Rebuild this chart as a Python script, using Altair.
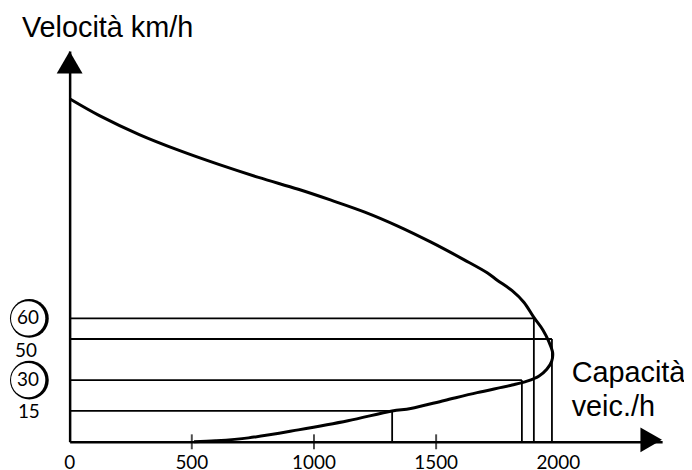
import altair as alt
import pandas as pd

# speed-flow curve (veic./h, km/h)
curve_flow = [0, 122, 285, 448, 610, 773, 936, 1070, 1208, 1343, 1477, 1615, 1709,
              1750, 1811, 1859, 1900, 1937, 1961, 1977, 1973, 1953, 1920, 1872, 1811,
              1668, 1534, 1396, 1320, 1139, 936, 732, 598, 509]
curve_speed = [166.8, 158.6, 149.4, 141.7, 134.9, 128.6, 122.8, 117.5, 111.7, 104.9,
               97.2, 88.5, 82.2, 78.6, 73.5, 67.9, 60.5, 54.4, 48.8, 43.3, 39.2, 35.3,
               31.9, 29.5, 27.6, 23.9, 20.1, 16.2, 15.0, 10.2, 5.8, 1.9, 0.5, 0.0]

levels = [60, 50, 30, 15]
level_flow = [1900, 1974, 1851, 1320]

circled = ["60", "30"]
circled_speed = [60, 30]

x_ticks = [500, 1000, 1500]
x_labels = [0, 500, 1000, 1500, 2000]

y_title = "Velocità km/h"
x_title = ["Capacità", "veic./h"]

xs = alt.Scale(domain=[0, 2425], nice=False, zero=False)
ys = alt.Scale(domain=[0, 190], nice=False, zero=False)
ax = alt.Axis(title=None, labels=False, ticks=False, grid=False,
              domainColor="black", domainWidth=2.5)

curve_df = pd.DataFrame({"flow": curve_flow, "speed": curve_speed,
                         "order": list(range(len(curve_flow)))})
lev_df = pd.DataFrame({"speed": levels, "flow": level_flow, "zero": [0] * len(levels)})
circ_df = pd.DataFrame({"lab": circled, "speed": circled_speed})
tick_df = pd.DataFrame({"flow": x_ticks, "zero": [0] * len(x_ticks)})
xlab_df = pd.DataFrame({"flow": x_labels, "zero": [0] * len(x_labels),
                        "lab": [str(v) for v in x_labels]})
one = pd.DataFrame({"a": [0]})

curve = alt.Chart(curve_df).mark_line(color="black", strokeWidth=3,
                                      interpolate="catmull-rom").encode(
    x=alt.X("flow:Q", scale=xs, axis=ax),
    y=alt.Y("speed:Q", scale=ys, axis=ax),
    order="order:Q")

hrules = alt.Chart(lev_df).mark_rule(color="black", strokeWidth=1.8).encode(
    x=alt.X("zero:Q", scale=xs, axis=ax), x2="flow:Q",
    y=alt.Y("speed:Q", scale=ys, axis=ax))

vrules = alt.Chart(lev_df).mark_rule(color="black", strokeWidth=1.8).encode(
    x=alt.X("flow:Q", scale=xs, axis=ax),
    y=alt.Y("zero:Q", scale=ys, axis=ax), y2="speed:Q")

ticks = alt.Chart(tick_df).mark_tick(color="black", orient="vertical", size=15,
                                     thickness=2).encode(
    x=alt.X("flow:Q", scale=xs, axis=ax),
    y=alt.Y("zero:Q", scale=ys, axis=ax))

up_arrow = alt.Chart(one).mark_point(shape="triangle-up", filled=True, color="black",
                                     size=676, opacity=1).encode(
    x=alt.value(0), y=alt.value(11.3))
right_arrow = alt.Chart(one).mark_point(shape="triangle-right", filled=True,
                                        color="black", size=625, opacity=1).encode(
    x=alt.value(585), y=alt.value(391))

disc_black = alt.Chart(circ_df).mark_point(shape="circle", filled=True, color="black",
                                           size=1521, opacity=1).encode(
    x=alt.value(-40.5), y=alt.Y("speed:Q", scale=ys, axis=ax))
disc_white = alt.Chart(circ_df).mark_point(shape="circle", filled=True, color="white",
                                           size=1190, opacity=1).encode(
    x=alt.value(-41.7), y=alt.Y("speed:Q", scale=ys, axis=ax))
circ_text = alt.Chart(circ_df).mark_text(font="Lato", fontSize=19, align="center",
                                         baseline="middle", color="black").encode(
    x=alt.value(-42), y=alt.Y("speed:Q", scale=ys, axis=ax), text="lab:N")

lab50 = alt.Chart(pd.DataFrame({"lab": ["50"], "speed": [50]})).mark_text(
    font="Lato", fontSize=19, align="center", baseline="middle", dy=12,
    color="black").encode(x=alt.value(-44), y=alt.Y("speed:Q", scale=ys, axis=ax),
                          text="lab:N")
lab15 = alt.Chart(pd.DataFrame({"lab": ["15"], "speed": [15]})).mark_text(
    font="Lato", fontSize=19, align="center", baseline="middle", dy=1,
    color="black").encode(x=alt.value(-41), y=alt.Y("speed:Q", scale=ys, axis=ax),
                          text="lab:N")

xlabs = alt.Chart(xlab_df).mark_text(font="Lato", fontSize=19, align="center",
                                     baseline="middle", dy=21, color="black").encode(
    x=alt.X("flow:Q", scale=xs, axis=ax),
    y=alt.Y("zero:Q", scale=ys, axis=ax), text="lab:N")

ytitle = alt.Chart(one).mark_text(text=y_title, font="Liberation Sans", fontSize=29,
                                  align="left", baseline="alphabetic",
                                  color="black").encode(
    x=alt.value(-48), y=alt.value(-14))
xtitle = alt.Chart(one).mark_text(text=x_title, font="Liberation Sans", fontSize=29,
                                  align="left", baseline="alphabetic", lineHeight=34,
                                  color="black").encode(
    x=alt.value(505), y=alt.value(333))

chart = alt.layer(hrules, vrules, ticks, curve, up_arrow, right_arrow, disc_black,
                  disc_white, circ_text, lab50, lab15, xlabs, ytitle, xtitle).properties(
    width=596, height=393,
    padding={"left": 62, "top": 42, "right": 22, "bottom": 27},
    autosize=alt.AutoSizeParams(type="none"),
    background="white",
).configure_view(stroke=None)

chart.save("out.html", embed_options={"renderer": "svg", "actions": False})
